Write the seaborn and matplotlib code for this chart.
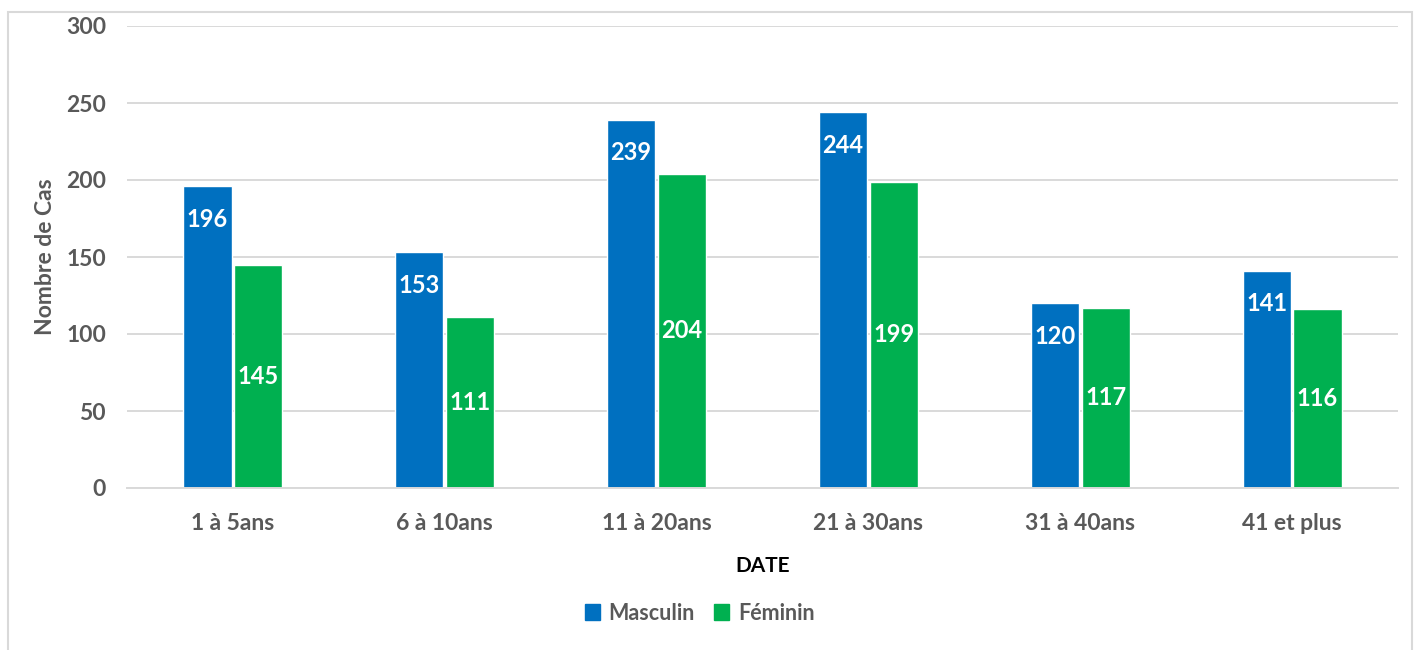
import numpy as np
import pandas as pd
import matplotlib
matplotlib.use("Agg")
import matplotlib.pyplot as plt
import seaborn as sns
from matplotlib.patches import Rectangle

categories = ["1 à 5ans", "6 à 10ans", "11 à 20ans", "21 à 30ans", "31 à 40ans", "41 et plus"]
masculin = [196, 153, 239, 244, 120, 141]
feminin = [145, 111, 204, 199, 117, 116]
series = ["Masculin", "Féminin"]
colors = ["#0070C0", "#00B050"]

df = pd.DataFrame({
    "cat": categories * 2,
    "val": masculin + feminin,
    "sexe": [series[0]] * len(categories) + [series[1]] * len(categories),
})

sns.set_theme(style="white")
plt.rcParams["font.family"] = ["Lato", "DejaVu Sans"]

fig = plt.figure(figsize=(14.22, 6.5), dpi=100)
ax = fig.add_axes([127 / 1422, 1 - 488 / 650, (1398 - 127) / 1422, (488 - 26) / 650])

sns.barplot(data=df, x="cat", y="val", hue="sexe", palette=colors, width=0.48,
            gap=0.05, saturation=1, ax=ax, legend=False)

grey = "#595959"
ax.set_ylim(0, 300)
ax.set_yticks(np.arange(0, 301, 50))
ax.set_xlim(-0.5, len(categories) - 0.5)
ax.grid(axis="y", color="#D9D9D9", linewidth=1.4)
ax.set_axisbelow(True)
for s in ["left", "right", "top"]:
    ax.spines[s].set_visible(False)
ax.spines["bottom"].set_color("#D9D9D9")
ax.spines["bottom"].set_linewidth(1.4)
ax.tick_params(axis="both", length=0, labelsize=16.5, labelcolor=grey)
for lab in ax.get_xticklabels() + ax.get_yticklabels():
    lab.set_fontweight("bold")
ax.tick_params(axis="x", pad=18)
ax.tick_params(axis="y", pad=15)

ax.set_ylabel("Nombre de Cas", fontsize=16.5, fontweight="bold", color=grey, labelpad=7)
ax.set_xlabel("DATE", fontsize=15, fontweight="bold", color="black", labelpad=16)

# étiquettes de valeurs
ax.bar_label(ax.containers[0], labels=[str(v) for v in masculin], padding=-32,
             color="white", fontsize=17, fontweight="bold")
ax.bar_label(ax.containers[1], labels=[str(v) for v in feminin], label_type="center",
             color="white", fontsize=17, fontweight="bold")

handles = [Rectangle((0, 0), 1, 1, color=c) for c in colors]
fig.legend(handles, series, loc="center", bbox_to_anchor=(0.492, 1 - 613 / 650),
           ncol=2, frameon=False, handlelength=0.7, handleheight=0.7,
           handletextpad=0.4, columnspacing=0.9,
           prop={"size": 15.5, "weight": "bold"}, labelcolor=grey)

# cadre extérieur
fig.patches.append(Rectangle((8 / 1422, -0.05), (1412 - 8) / 1422, 1 - 12 / 650 + 0.05,
                             transform=fig.transFigure, fill=False,
                             edgecolor="#D9D9D9", linewidth=1.5))

fig.savefig("out.png", dpi=100)
